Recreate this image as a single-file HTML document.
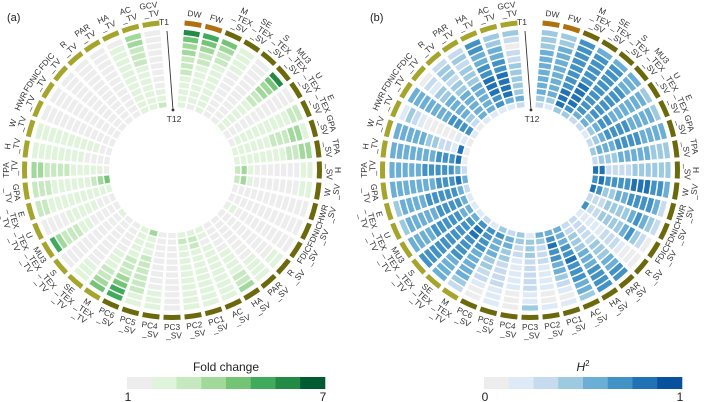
<!DOCTYPE html>
<html><head><meta charset="utf-8">
<style>
html,body{margin:0;padding:0;background:#fff;}
svg{display:block;font-family:"Liberation Sans",Arial,sans-serif;}
</style></head>
<body>
<svg id="chart" width="709" height="402" viewBox="0 0 709 402" xmlns="http://www.w3.org/2000/svg">
<text x="7" y="21" font-size="11" fill="#222">(a)</text>
<text x="370" y="21" font-size="11" fill="#222">(b)</text>
<g id="pa"></g>
<g id="pb"></g>
<g id="legA"></g>
<g id="legB"></g>
</svg>
<script>
const categories = ["DW","FW","M_TEX_SV","SE_TEX_SV","S_TEX_SV","MU3_TEX_SV","U_TEX_SV","E_TEX_SV","GPA_SV","TPA_SV","H_SV","W_SV","HWR_SV","FDNIC_SV","FDIC_SV","R_SV","PAR_SV","HA_SV","AC_SV","PC1_SV","PC2_SV","PC3_SV","PC4_SV","PC5_SV","PC6_SV","M_TEX_TV","SE_TEX_TV","S_TEX_TV","MU3_TEX_TV","U_TEX_TV","E_TEX_TV","GPA_TV","TPA_TV","H_TV","W_TV","HWR_TV","FDNIC_TV","FDIC_TV","R_TV","PAR_TV","HA_TV","AC_TV","GCV_TV"];
const labelLines = [["DW"],["FW"],["M","_TEX","_SV"],["SE","_TEX","_SV"],["S","_TEX","_SV"],["MU3","_TEX","_SV"],["U","_TEX","_SV"],["E","_TEX","_SV"],["GPA","_SV"],["TPA","_SV"],["H","_SV"],["W","_SV"],["HWR","_SV"],["FDNIC","_SV"],["FDIC","_SV"],["R","_SV"],["PAR","_SV"],["HA","_SV"],["AC","_SV"],["PC1","_SV"],["PC2","_SV"],["PC3","_SV"],["PC4","_SV"],["PC5","_SV"],["PC6","_SV"],["M","_TEX","_TV"],["SE","_TEX","_TV"],["S","_TEX","_TV"],["MU3","_TEX","_TV"],["U","_TEX","_TV"],["E","_TEX","_TV"],["GPA","_TV"],["TPA","_TV"],["H","_TV"],["W","_TV"],["HWR","_TV"],["FDNIC","_TV"],["FDIC","_TV"],["R","_TV"],["PAR","_TV"],["HA","_TV"],["AC","_TV"],["GCV","_TV"]];
const groups = ["B","B","S","S","S","S","S","S","S","S","S","S","S","S","S","S","S","S","S","S","S","S","S","S","S","T","T","T","T","T","T","T","T","T","T","T","T","T","T","T","T","T","T"];
const timepoints = ["T1","T2","T3","T4","T5","T6","T7","T8","T9","T10","T11","T12"];
// fold-change colour level (0..7) per trait, T1..T12
const foldLevels = [
[6,4,3,3,2,2,2,1,1,1,1,1],[5,4,3,2,2,1,1,1,1,1,1,0],[4,3,2,2,1,1,1,1,1,1,1,1],[1,1,1,1,0,0,0,0,0,0,0,0],
[0,0,0,0,0,0,0,0,0,0,0,0],[6,4,3,3,2,2,1,1,1,1,1,1],[0,0,0,0,0,0,0,0,0,0,0,0],[2,2,1,1,1,1,1,1,1,1,1,0],
[1,3,3,2,2,2,1,1,1,1,1,1],[3,3,2,2,1,1,1,1,1,1,1,1],[1,1,0,0,0,0,0,0,0,1,3,2],[1,1,0,0,0,0,0,0,0,1,3,2],
[0,0,0,0,0,0,0,0,0,0,0,0],[0,0,0,0,0,0,0,0,0,0,0,0],[0,0,0,0,0,0,0,0,0,0,1,0],[1,1,0,0,0,0,0,0,0,0,0,0],
[1,1,1,1,0,0,0,0,0,0,0,0],[3,2,2,1,1,1,1,0,0,0,0,0],[1,1,1,1,1,1,1,1,1,0,1,1],[1,1,1,1,1,1,1,1,1,2,2,1],
[1,1,1,1,1,1,1,1,1,1,2,1],[0,0,0,0,0,0,0,0,0,0,0,0],[1,1,1,0,0,0,0,0,0,0,0,0],[1,1,2,2,2,2,2,2,1,1,1,3],
[5,5,4,3,2,2,2,1,1,1,1,1],[4,3,2,2,1,1,1,0,0,0,0,0],[1,1,1,0,0,0,0,0,0,0,0,0],[0,0,0,0,0,0,0,0,0,0,0,1],
[5,3,2,2,2,1,1,0,0,0,0,0],[0,0,0,0,1,1,1,1,1,0,0,0],[2,2,1,1,1,1,1,1,1,1,1,1],[2,2,2,1,1,1,1,1,1,2,3,4],
[3,3,2,2,2,2,1,1,1,1,1,0],[1,1,1,1,1,1,1,1,0,0,0,0],[1,1,1,1,1,1,1,1,1,1,0,0],[0,0,0,0,0,0,0,0,0,0,0,0],
[0,0,0,0,0,0,0,0,0,0,0,0],[0,0,0,0,0,0,0,0,0,0,0,0],[0,0,0,0,0,0,0,0,0,0,0,0],[0,0,0,0,0,0,0,0,0,0,0,0],
[0,1,1,1,1,1,1,1,1,1,1,1],[3,3,2,2,2,1,1,1,1,1,1,1],[0,0,0,0,0,0,0,0,0,1,1,2]];
// heritability colour level (0..7) per trait, T1..T12
const h2Levels = [
[3,3,3,4,4,4,4,4,4,4,3,2],[3,3,4,4,4,4,4,4,4,4,3,1],[5,5,5,5,5,5,5,5,6,6,6,3],[4,5,5,5,5,5,6,6,6,6,5,3],
[4,5,5,5,5,5,5,5,5,5,4,2],[4,4,4,5,5,5,5,5,5,4,4,2],[3,4,4,4,4,4,4,5,5,4,3,1],[3,4,4,4,4,5,5,5,5,4,3,2],
[4,4,4,4,5,5,5,5,4,4,4,3],[3,3,3,4,4,4,4,4,3,3,3,2],[3,3,3,3,3,3,2,2,2,2,6,6],[4,5,5,6,6,6,5,5,5,5,6,5],
[2,4,5,5,5,5,4,4,3,3,5,6],[2,3,4,5,4,3,3,3,3,2,2,2],[0,2,3,5,4,3,3,3,3,2,2,5],[0,0,0,1,2,2,2,1,1,1,1,1],
[5,5,4,4,3,3,3,2,2,2,2,2],[5,5,5,5,4,4,4,3,3,3,2,2],[3,4,4,5,5,5,6,5,5,4,4,4],[1,0,1,2,3,4,4,5,5,6,5,4],
[1,0,0,1,1,1,1,2,2,2,3,4],[3,1,1,2,2,2,2,2,3,3,3,1],[0,0,0,1,1,1,1,1,2,2,3,3],[1,1,1,2,2,2,2,3,3,4,4,2],
[0,0,1,2,2,3,3,4,4,4,5,3],[2,3,4,4,4,4,4,5,5,5,5,1],[4,4,4,4,5,5,5,5,6,6,5,2],[5,5,5,5,5,5,5,5,5,5,4,1],
[4,4,4,4,5,5,5,5,5,4,4,1],[3,4,4,4,4,4,5,5,5,5,4,1],[3,4,4,4,4,5,5,5,5,5,4,2],[4,4,4,4,4,4,4,5,5,5,6,4],
[4,4,4,4,4,5,5,5,5,5,4,2],[4,4,4,4,4,4,4,5,5,5,6,0],[4,4,4,4,4,3,3,2,2,1,6,0],[1,3,2,1,0,0,0,0,0,1,1,0],
[4,4,4,4,4,4,4,5,5,5,5,1],[0,2,1,3,3,4,4,4,4,3,2,0],[2,3,3,2,3,3,4,4,4,4,4,1],[2,3,2,3,3,3,4,4,4,4,4,1],
[5,5,4,4,5,5,6,6,6,5,5,1],[3,3,4,4,5,5,6,6,6,6,4,1],[3,2,0,2,2,3,3,3,3,3,4,2]];
const greens = ["#ededed","#e0f3db","#c7e9c0","#a1d99b","#74c476","#41ab5d","#238b45","#005a32"];
const blues = ["#ededed","#deebf7","#c6dbef","#9ecae1","#6baed6","#4292c6","#2171b5","#08519c"];
const groupColors = {B:"#b0700f",S:"#6b690c",T:"#a5a42b"};

const NS="http://www.w3.org/2000/svg";
const SLOTS = categories.length + 1;
const R_IN = 62, R_OUT = 141, ARC_IN = 145, ARC_OUT = 150;
function angleOf(i){ return (i+1)*360/SLOTS; }
function radiusOf(t){ const step=(R_OUT-R_IN)/timepoints.length; return [R_OUT - t*step - 0.4, R_OUT-(t+1)*step + 1.1]; }
function pt(cx,cy,r,a){ const rad=a*Math.PI/180; return [cx+r*Math.sin(rad), cy-r*Math.cos(rad)]; }
function sector(cx,cy,r0,r1,a0,a1){
  const p1=pt(cx,cy,r1,a0),p2=pt(cx,cy,r1,a1),p3=pt(cx,cy,r0,a1),p4=pt(cx,cy,r0,a0);
  return `M${p1[0]},${p1[1]}A${r1},${r1} 0 0 1 ${p2[0]},${p2[1]}L${p3[0]},${p3[1]}A${r0},${r0} 0 0 0 ${p4[0]},${p4[1]}Z`;
}
function drawPanel(gid,cx,cy,levels,palette){
  const g=document.getElementById(gid);
  const half=360/SLOTS/2 - 0.8;
  categories.forEach((c,i)=>{
    const a=angleOf(i);
    levels[i].forEach((lv,t)=>{
      const [r1,r0]=radiusOf(t);
      const p=document.createElementNS(NS,"path");
      p.setAttribute("d",sector(cx,cy,r0,r1,a-half,a+half));
      p.setAttribute("fill",palette[Math.max(0,Math.min(7,Math.round(lv)))]);
      
      
      g.appendChild(p);
    });
    const arc=document.createElementNS(NS,"path");
    arc.setAttribute("d",sector(cx,cy,ARC_IN,ARC_OUT,a-half,a+half));
    arc.setAttribute("fill",groupColors[groups[i]]);
    
    
    g.appendChild(arc);
    const lines=labelLines[i], lh=8.5, h=lines.length*lh;
    const bottom = a>90 && a<270;
    const [lx,ly]=pt(cx,cy,ARC_OUT+3+h/2,a);
    const rot = bottom ? a-180 : a;
    const tx=document.createElementNS(NS,"text");
    tx.setAttribute("transform",`translate(${lx},${ly}) rotate(${rot})`);
    tx.setAttribute("font-size","8.3");
    tx.setAttribute("fill","#333");
    tx.setAttribute("text-anchor","middle");
    
    
    lines.forEach((ln,k)=>{
      const ts=document.createElementNS(NS,"tspan");
      ts.setAttribute("x", ln.startsWith("_")? 2 : 0);
      ts.setAttribute("y",(-h/2+lh*(k+0.8)).toFixed(2));
      ts.textContent=ln;
      tx.appendChild(ts);
    });
    g.appendChild(tx);
  });
  // time axis
  const ln=document.createElementNS(NS,"line");
  ln.setAttribute("x1",cx-5);ln.setAttribute("y1",cy-R_OUT+2);
  ln.setAttribute("x2",cx+1);ln.setAttribute("y2",cy-R_IN+2);
  ln.setAttribute("stroke","#333");ln.setAttribute("stroke-width","0.9");
  
  
  g.appendChild(ln);
  const dot=document.createElementNS(NS,"circle");
  dot.setAttribute("cx",cx+1);dot.setAttribute("cy",cy-R_IN+2);dot.setAttribute("r","1.4");dot.setAttribute("fill","#333");
  
  
  g.appendChild(dot);
  [["T1",cx-8,cy-R_OUT-4],["T12",cx+2,cy-R_IN+14]].forEach(([s,x,y])=>{
    const t=document.createElementNS(NS,"text");
    t.setAttribute("x",x);t.setAttribute("y",y);t.setAttribute("font-size","8.5");t.setAttribute("fill","#333");t.setAttribute("text-anchor","middle");
    t.textContent=s;
    
    
    g.appendChild(t);
  });
}
drawPanel("pa",172,170,foldLevels,greens);
drawPanel("pb",530,170,h2Levels,blues);

function drawLegend(gid,x0,palette,title,italic,lo,hi){
  const g=document.getElementById(gid), w=198/8;
  palette.forEach((c,k)=>{
    const r=document.createElementNS(NS,"rect");
    r.setAttribute("x",x0+k*w);r.setAttribute("y",377);r.setAttribute("width",w+0.3);r.setAttribute("height",12);r.setAttribute("fill",c);
    
    
    g.appendChild(r);
  });
  const t=document.createElementNS(NS,"text");
  t.setAttribute("x",x0+99);t.setAttribute("y",371);t.setAttribute("font-size","12");t.setAttribute("text-anchor","middle");t.setAttribute("fill","#222");
  if(italic){ t.innerHTML='<tspan font-style="italic">H</tspan><tspan font-size="8" dy="-5">2</tspan>'; } else t.textContent=title;
  
  
  g.appendChild(t);
  [[lo,x0+1],[hi,x0+196]].forEach(([s,x])=>{
    const l=document.createElementNS(NS,"text");
    l.setAttribute("x",x);l.setAttribute("y",401);l.setAttribute("font-size","12");l.setAttribute("text-anchor","middle");l.setAttribute("fill","#222");
    l.textContent=s;
    
    
    g.appendChild(l);
  });
}
drawLegend("legA",127,greens,"Fold change",false,"1","7");
drawLegend("legB",484,blues,"H2",true,"0","1");
</script>
</body></html>
